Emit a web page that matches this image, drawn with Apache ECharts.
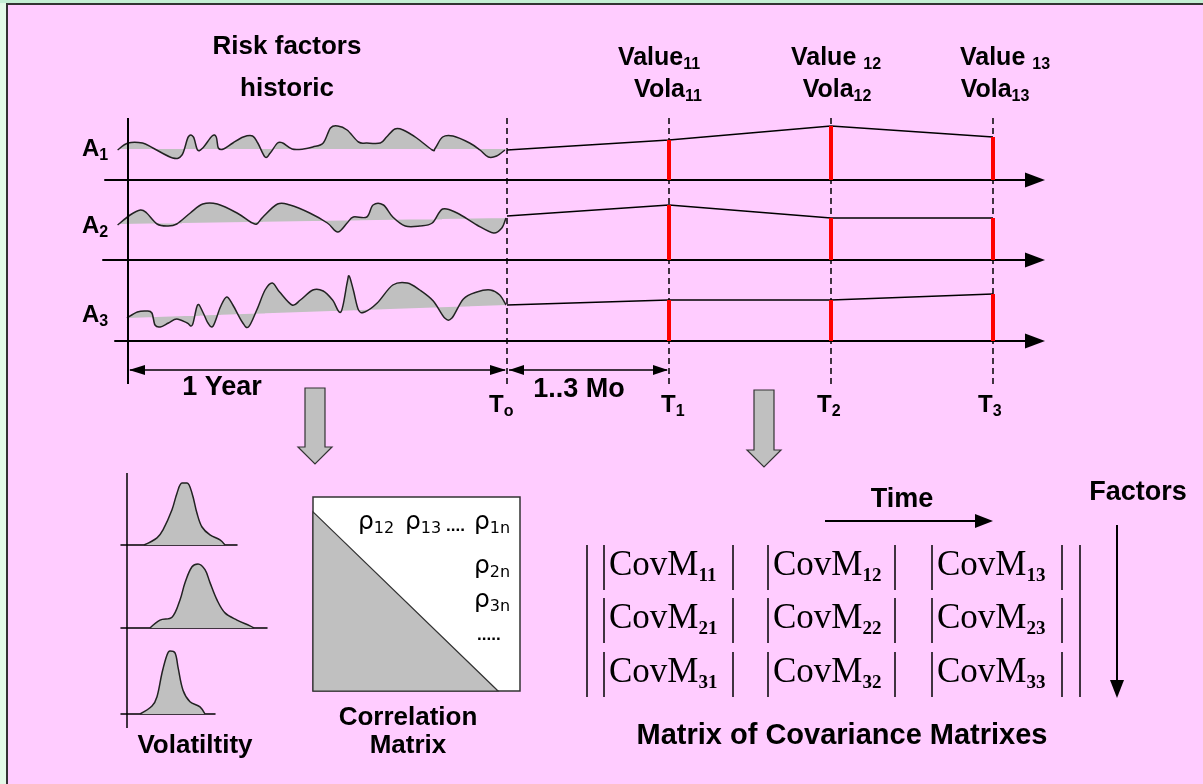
<!DOCTYPE html>
<html><head><meta charset="utf-8">
<script src="https://cdn.jsdelivr.net/npm/echarts@6/dist/echarts.min.js"></script>
<style>html,body{margin:0;padding:0;background:#ffccff;}#c{width:1203px;height:784px;}</style>
</head><body><div id="c"></div>
<script>
// ================= DATA =================
// historic risk factor paths: [day relative to T0, level]
const histA1 = [[-375,3.0],[-365,3.7],[-351,3.7],[-341,3.2],[-322,2.2],[-313,2.5],[-307,4.3],[-302,4.3],[-298,3.0],[-293,3.2],[-284,4.4],[-280,4.3],[-278,3.2],[-273,3.1],[-264,3.7],[-254,4.3],[-245,4.4],[-240,3.7],[-233,2.3],[-228,2.7],[-221,3.7],[-216,3.7],[-207,3.1],[-196,3.1],[-187,3.3],[-177,3.7],[-170,5.2],[-163,5.4],[-154,5.0],[-143,3.8],[-135,3.7],[-122,3.7],[-116,4.3],[-108,5.1],[-100,5.0],[-87,4.2],[-72,3.0],[-69,3.2],[-62,4.3],[-52,4.4],[-36,3.7],[-26,3.0],[-18,2.3],[-10,2.4],[-2,3.0]];
const histA2 = [[-375,3.5],[-363,4.5],[-353,5.0],[-347,4.7],[-337,3.6],[-327,3.4],[-318,3.6],[-305,4.7],[-293,5.6],[-279,5.6],[-260,4.7],[-247,3.8],[-241,3.6],[-235,4.3],[-221,5.6],[-209,5.5],[-190,4.7],[-173,3.7],[-163,2.8],[-154,3.7],[-148,4.3],[-135,4.3],[-129,5.5],[-119,5.5],[-110,4.3],[-98,3.4],[-84,3.4],[-72,3.7],[-62,5.1],[-48,4.7],[-29,3.5],[-13,2.7],[-5,3.2],[-1,4.2]];
const histA3 = [[-366,2.3],[-356,2.9],[-347,3.0],[-342,2.8],[-339,1.6],[-334,1.4],[-326,1.8],[-318,2.2],[-308,1.8],[-303,1.6],[-298,3.6],[-293,2.9],[-288,1.8],[-283,1.5],[-276,3.4],[-270,4.4],[-264,3.6],[-255,1.9],[-249,1.4],[-241,3.1],[-233,5.1],[-226,5.8],[-219,4.9],[-207,3.6],[-199,4.1],[-187,5.1],[-177,5.0],[-168,4.1],[-160,2.9],[-154,5.8],[-152,6.5],[-148,5.1],[-143,3.1],[-137,2.9],[-125,3.8],[-110,5.6],[-96,5.8],[-84,5.1],[-71,4.0],[-60,2.3],[-53,2.3],[-42,4.2],[-29,4.9],[-16,5.1],[-7,4.6],[-1,3.6]];
// trend (mean) line of each historic path: [day, level]
const trendA1 = [[-375,3.1],[0,3.1]];
const trendA2 = [[-375,3.6],[0,4.2]];
const trendA3 = [[-366,2.3],[0,3.6]];
// projected values at T0..T3 (months)
const horizonMonths = [0,1,2,3];
const valueA1 = [3.0,4.0,5.4,4.3];
const valueA2 = [4.4,5.5,4.2,4.2];
const valueA3 = [3.6,4.1,4.1,4.7];
// return distributions (volatility): [return bucket, density]
const volA1 = [[5.75,0],[9.0,0.10],[10.5,0.21],[12.75,0.49],[14.0,0.72],[15.25,0.86],[16.5,0.86],[17.75,0.72],[19.0,0.44],[20.25,0.25],[22.25,0.14],[24.75,0.07],[26.0,0]];
const volA2 = [[7.25,0],[9.75,0.11],[12.75,0.15],[14.75,0.39],[16.0,0.63],[17.75,0.85],[19.25,0.89],[21.0,0.81],[22.25,0.63],[24.0,0.39],[26.0,0.21],[29.0,0.11],[32.25,0.03],[33.25,0]];
const volA3 = [[4.75,0],[7.75,0.11],[9.0,0.24],[10.25,0.57],[11.5,0.82],[12.25,0.875],[13.5,0.85],[14.25,0.65],[15.5,0.33],[17.25,0.17],[19.75,0.10],[21.0,0]];
// correlation matrix: lower triangle (grey) in unit matrix coords
const corrLower = [[0,0.923],[0,0],[0.894,0]];
const rhoTopRow = ['12','13','1n'];
const rhoLastCol = ['2n','3n'];
// labels
const factorSubs = ['1','2','3'];
const timeSubs = ['o','1','2','3'];
const valueLabels = [['Value','11'],['Value ','12'],['Value ','13']];
const volaLabels = [['Vola','11'],['Vola','12'],['Vola','13']];
const covRows = ['1','2','3'];
const covCols = ['1','2','3'];

// ================= LAYOUT =================
const T0X = 507, MONTH_PX = 162, HIST_X = 128, YEAR_DAYS = 365, ARROW_X = 1035;
const DAY_PX = (T0X - HIST_X) / YEAR_DAYS;
const rowAxisY = [180, 260, 341];
const rowLeft = [105, 103, 115];
const ROW_H = 80, ROW_MAX = 8;
const distBase = [545, 628, 714], distRight = [237, 267, 215], DIST_LEFT = 121, DIST_H = 72, DIST_PX = 4;

const hist = [histA1, histA2, histA3];
const trend = [trendA1, trendA2, trendA3];
const values = [valueA1, valueA2, valueA3];
const vols = [volA1, volA2, volA3];

function smoothPath(pts, t) {
  let d = 'M' + pts[0][0] + ',' + pts[0][1];
  for (let i = 0; i < pts.length - 1; i++) {
    const p0 = pts[i - 1] || pts[i], p1 = pts[i], p2 = pts[i + 1], p3 = pts[i + 2] || pts[i + 1];
    const c1x = p1[0] + (p2[0] - p0[0]) * t / 6, c1y = p1[1] + (p2[1] - p0[1]) * t / 6;
    const c2x = p2[0] - (p3[0] - p1[0]) * t / 6, c2y = p2[1] - (p3[1] - p1[1]) * t / 6;
    d += ' C' + c1x + ',' + c1y + ' ' + c2x + ',' + c2y + ' ' + p2[0] + ',' + p2[1];
  }
  return d;
}

const grid = [], xAxis = [], yAxis = [], series = [];
const hidden = {show: false};
for (let r = 0; r < 3; r++) {
  grid.push({left: rowLeft[r], top: rowAxisY[r] - ROW_H, width: ARROW_X - rowLeft[r], height: ROW_H});
  xAxis.push({type: 'value', gridIndex: r, position: 'top', show: false,
    min: -YEAR_DAYS - (HIST_X - rowLeft[r]) / DAY_PX, max: (ARROW_X - T0X) / DAY_PX});
  xAxis.push({type: 'value', gridIndex: r, position: 'bottom',
    min: -(T0X - rowLeft[r]) / MONTH_PX, max: (ARROW_X - T0X) / MONTH_PX,
    axisLine: {show: true, onZero: false, symbol: ['none', 'triangle'], symbolSize: [15, 20], lineStyle: {color: '#000', width: 2}},
    axisTick: hidden, axisLabel: hidden, splitLine: hidden});
  yAxis.push({type: 'value', gridIndex: r, min: 0, max: ROW_MAX, show: false});
  const rr = r;
  series.push({type: 'custom', xAxisIndex: 2 * r, yAxisIndex: r, data: [0], silent: true, z: 3,
    renderItem: function (params, api) {
      const pts = hist[rr].map(p => api.coord(p));
      const b = trend[rr].map(p => api.coord(p));
      const curve = smoothPath(pts, 1);
      const fill = curve + ' L' + b[1][0] + ',' + b[1][1] + ' L' + b[0][0] + ',' + b[0][1] + ' Z';
      return {type: 'group', children: [
        {type: 'path', shape: {pathData: fill}, style: {fill: '#c0c0c0', stroke: null}},
        {type: 'path', shape: {pathData: curve}, style: {fill: 'none', stroke: '#222', lineWidth: 1.5}}
      ]};
    }});
  series.push({type: 'line', xAxisIndex: 2 * r + 1, yAxisIndex: r, symbol: 'none', silent: true, z: 3,
    data: horizonMonths.map((m, i) => [m, values[r][i]]), lineStyle: {color: '#000', width: 1.5}});
  series.push({type: 'bar', xAxisIndex: 2 * r + 1, yAxisIndex: r, barWidth: 4, silent: true, z: 4,
    data: horizonMonths.slice(1).map((m, i) => [m, values[r][i + 1]]), itemStyle: {color: '#ff0000'}});
}
for (let k = 0; k < 3; k++) {
  const gi = 3 + k;
  grid.push({left: DIST_LEFT, top: distBase[k] - DIST_H, width: distRight[k] - DIST_LEFT, height: DIST_H});
  xAxis.push({type: 'value', gridIndex: gi, min: 0, max: (distRight[k] - DIST_LEFT) / DIST_PX,
    axisLine: {show: true, onZero: false, lineStyle: {color: '#000', width: 1.5}},
    axisTick: hidden, axisLabel: hidden, splitLine: hidden});
  yAxis.push({type: 'value', gridIndex: gi, min: 0, max: 1, show: false});
  series.push({type: 'line', xAxisIndex: 6 + k, yAxisIndex: gi, data: vols[k], smooth: 0.35, symbol: 'none', silent: true, z: 3,
    lineStyle: {color: '#222', width: 1.5}, areaStyle: {color: '#c0c0c0', opacity: 1}});
}
// correlation matrix grid
grid.push({left: 313, top: 497, width: 207, height: 194});
xAxis.push({type: 'value', gridIndex: 6, min: 0, max: 1, show: false});
yAxis.push({type: 'value', gridIndex: 6, min: 0, max: 1, show: false});
series.push({type: 'custom', xAxisIndex: 9, yAxisIndex: 6, data: [0], silent: true, z: 3,
  renderItem: function (params, api) {
    const a = api.coord([0, 1]), c = api.coord([1, 0]);
    const tri = corrLower.map(p => api.coord(p));
    return {type: 'group', children: [
      {type: 'rect', shape: {x: a[0], y: a[1], width: c[0] - a[0], height: c[1] - a[1]}, style: {fill: '#ffffff', stroke: '#333', lineWidth: 1.5}},
      {type: 'polygon', shape: {points: tri}, style: {fill: '#c0c0c0', stroke: '#333', lineWidth: 1.2}}
    ]};
  }});

const chart = echarts.init(document.getElementById('c'), null, {width: 1203, height: 784});
chart.setOption({backgroundColor: '#ffccff', animation: false, grid, xAxis, yAxis, series});

// ================= DECORATION =================
const tx = horizonMonths.map(m => chart.convertToPixel({xAxisIndex: 1}, m));
const FAM = '"Liberation Sans", Arial, sans-serif';
const G = [];
function line(x1, y1, x2, y2, w, dash, color, z) {
  G.push({type: 'line', z: z == null ? 10 : z, silent: true, shape: {x1, y1, x2, y2}, style: {stroke: color || '#000', lineWidth: w || 1.5, lineDash: dash || null}});
}
function poly(points, fill, stroke, w) {
  G.push({type: 'polygon', z: 10, silent: true, shape: {points}, style: {fill, stroke: stroke || null, lineWidth: w || 1}});
}
function label(x, y, main, sub, o) {
  o = o || {};
  const size = o.size || 26, sub_size = o.subSize || 16;
  const text = sub ? '{m|' + main + '}{s|' + sub + '}' : '{m|' + main + '}';
  G.push({type: 'text', z: 20, silent: true, x, y, style: {
    text, align: o.align || 'center', textAlign: o.align || 'center', verticalAlign: 'middle', textVerticalAlign: 'middle',
    rich: {
      m: {fontFamily: o.family || FAM, fontWeight: o.weight || 'bold', fontSize: size, lineHeight: o.lh || 30, fill: '#000'},
      s: {fontFamily: o.subFamily || o.family || FAM, fontWeight: o.subWeight || o.weight || 'bold', fontSize: sub_size, lineHeight: o.subLh || 16, verticalAlign: 'bottom', fill: '#000'}
    }}});
}
// vertical time axis
line(HIST_X, 118, HIST_X, 384, 2);
// dashed time markers (under the series)
tx.forEach(x => line(x, 118, x, 386, 1.5, [6, 4], '#000', 1));
// dimension arrows
const DY = 370;
line(HIST_X + 2, DY, tx[0] - 2, DY, 1.5);
poly([[HIST_X + 1, DY], [HIST_X + 17, DY - 5], [HIST_X + 17, DY + 5]], '#000');
poly([[tx[0] - 1, DY], [tx[0] - 17, DY - 5], [tx[0] - 17, DY + 5]], '#000');
line(tx[0] + 2, DY, tx[1] - 2, DY, 1.5);
poly([[tx[0] + 2, DY], [tx[0] + 17, DY - 5], [tx[0] + 17, DY + 5]], '#000');
poly([[tx[1] - 1, DY], [tx[1] - 16, DY - 5], [tx[1] - 16, DY + 5]], '#000');
// block arrows down
function blockArrow(cx, y0, y1, y2) {
  poly([[cx - 10, y0], [cx + 10, y0], [cx + 10, y1], [cx + 17, y1], [cx, y2], [cx - 17, y1], [cx - 10, y1]], '#c0c0c0', '#333', 1.2);
}
blockArrow(315, 388, 447, 464);
blockArrow(764, 390, 450, 467);
// volatility vertical axis
line(127, 473, 127, 728, 1.5);
// covariance matrix bars
const covBarX = [[604, 733], [768, 895], [932, 1062]];
const covRowY = [[545, 590], [598, 643], [652, 697]];
const covTextY = [566, 619, 673];
line(587, 545, 587, 697, 1.5);
line(1080, 545, 1080, 697, 1.5);
covRows.forEach((rr, i) => covCols.forEach((cc, j) => {
  line(covBarX[j][0], covRowY[i][0], covBarX[j][0], covRowY[i][1], 1.5);
  line(covBarX[j][1], covRowY[i][0], covBarX[j][1], covRowY[i][1], 1.5);
  label(covBarX[j][0] + 5, covTextY[i], 'CovM', rr + cc, {align: 'left', family: '"Liberation Serif", serif', weight: 'normal', size: 35, lh: 40, subSize: 19, subWeight: 'bold', subLh: 12});
}));
// time & factor arrows
line(825, 521, 976, 521, 2);
poly([[993, 521], [975, 514], [975, 528]], '#000');
line(1117, 525, 1117, 680, 2);
poly([[1117, 698], [1110, 680], [1124, 680]], '#000');

// texts
label(287, 47, 'Risk factors', null, {size: 26});
label(287, 89, 'historic', null, {size: 26});
const valX = [659, 836, 1005], volaX = [668, 837, 995];
valueLabels.forEach((v, j) => label(valX[j], 58, v[0], v[1], {size: 25, subSize: 16, subLh: 18}));
volaLabels.forEach((v, j) => label(volaX[j], 90, v[0], v[1], {size: 25, subSize: 16, subLh: 16}));
const aY = [149, 226, 315];
factorSubs.forEach((s, i) => label(82, aY[i], 'A', s, {align: 'left', size: 24, subSize: 16, subLh: 14}));
const tLeft = [489, 661, 817, 978];
timeSubs.forEach((s, i) => label(tLeft[i], 405, 'T', s, {align: 'left', size: 24, subSize: 16, subLh: 8}));
label(222, 388, '1 Year', null, {size: 27});
label(579, 390, '1..3 Mo', null, {size: 27});
label(195, 746, 'Volatiltity', null, {size: 26});
label(408, 718, 'Correlation', null, {size: 26});
label(408, 746, 'Matrix', null, {size: 26});
label(902, 500, 'Time', null, {size: 27});
label(1138, 493, 'Factors', null, {size: 27});
label(842, 736, 'Matrix of Covariance Matrixes', null, {size: 29});
// correlation entries
const rhoTopX = [358, 405, 474];
rhoTopRow.forEach((s, i) => label(rhoTopX[i], 522, 'ρ', s, {align: 'left', weight: 'normal', family: '"DejaVu Sans", sans-serif', size: 25, subSize: 16, subLh: 20}));
label(446, 526, '....', null, {align: 'left', weight: 'bold', size: 17});
const rhoColY = [566, 600];
rhoLastCol.forEach((s, i) => label(474, rhoColY[i], 'ρ', s, {align: 'left', weight: 'normal', family: '"DejaVu Sans", sans-serif', size: 25, subSize: 16, subLh: 20}));
label(477, 635, '.....', null, {align: 'left', weight: 'bold', size: 17});
// frame
G.push({type: 'rect', z: 30, silent: true, shape: {x: 0, y: 0, width: 6, height: 784}, style: {fill: '#e4fbe8'}});
G.push({type: 'rect', z: 30, silent: true, shape: {x: 0, y: 0, width: 1203, height: 3}, style: {fill: '#c4f0d4'}});
line(7, 4, 7, 784, 2, null, '#333', 31);
line(6, 4, 1203, 4, 2, null, '#333', 31);

chart.setOption({graphic: {elements: G}});
</script></body></html>
